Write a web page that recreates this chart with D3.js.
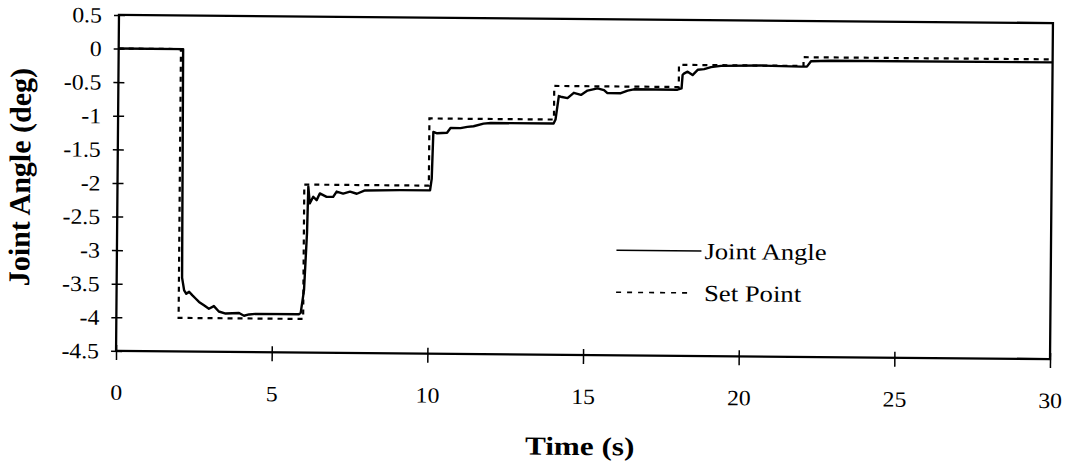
<!DOCTYPE html>
<html>
<head>
<meta charset="utf-8">
<script src="https://cdn.jsdelivr.net/npm/d3@7"></script>
<style>
  html, body { margin: 0; padding: 0; background: #fff; }
  svg { display: block; }
  text { font-family: "Liberation Serif", "Times New Roman", serif; fill: #000; }
</style>
</head>
<body>
<svg id="chart" width="1068" height="475"></svg>
<script>
// Joint angle response (deg) over time (s)
const jointTimes = [0, 2.07, 2.10, 2.17, 2.24, 2.33, 2.43, 2.54, 2.65, 2.81, 2.97, 3.13, 3.29, 3.51, 3.94, 4.10, 4.26, 4.47, 5.86, 5.92, 6.02, 6.10, 6.13, 6.18, 6.29, 6.40, 6.50, 6.72, 6.93, 7.04, 7.25, 7.47, 7.69, 7.95, 9.07, 10.04, 10.09, 10.13, 10.25, 10.57, 10.68, 11.0, 11.22, 11.42, 11.74, 11.97, 13.99, 14.05, 14.15, 14.21, 14.43, 14.63, 14.86, 15.07, 15.39, 15.60, 15.71, 16.14, 16.36, 16.56, 17.96, 18.09, 18.12, 18.16, 18.28, 18.44, 18.61, 18.81, 19.03, 19.35, 20.64, 21.92, 22.11, 22.24, 22.88, 30];
const jointValues = [0, 0, -3.40, -3.59, -3.64, -3.61, -3.66, -3.71, -3.76, -3.81, -3.86, -3.82, -3.90, -3.93, -3.92, -3.96, -3.94, -3.93, -3.93, -3.91, -3.57, -2.72, -2.03, -2.28, -2.18, -2.23, -2.13, -2.18, -2.18, -2.10, -2.13, -2.10, -2.13, -2.08, -2.07, -2.07, -1.90, -1.20, -1.22, -1.21, -1.14, -1.14, -1.12, -1.11, -1.07, -1.06, -1.06, -1.00, -0.65, -0.66, -0.68, -0.60, -0.63, -0.565, -0.53, -0.555, -0.60, -0.60, -0.56, -0.54, -0.54, -0.52, -0.32, -0.30, -0.27, -0.32, -0.24, -0.23, -0.20, -0.18, -0.17, -0.18, -0.18, -0.10, -0.09, -0.085];

// Set point schedule (held until the next change)
const setTimes = [0, 2, 6, 10, 14, 18, 22, 30];
const setValues = [0, -4, -2, -1, -0.5, -0.17, -0.04, -0.04];

// Axis ticks
const xTicks = [0, 5, 10, 15, 20, 25, 30];
const yTicks = [0.5, 0, -0.5, -1, -1.5, -2, -2.5, -3, -3.5, -4, -4.5];

const seriesNames = ["Joint Angle", "Set Point"];

const svg = d3.select("#chart");
const plotLeft = 117.5, plotRight = 1051.5, plotTop = 19, plotBottom = 355;

const x = d3.scaleLinear().domain([0, 30]).range([plotLeft, plotRight]);
const y = d3.scaleLinear().domain([-4.5, 0.5]).range([plotBottom, plotTop]);

// whole figure sits at a slight tilt
const g = svg.append("g").attr("transform", "rotate(0.5, 584.5, 187)");

// plot frame
g.append("rect")
  .attr("x", plotLeft).attr("y", plotTop)
  .attr("width", plotRight - plotLeft).attr("height", plotBottom - plotTop)
  .attr("fill", "none").attr("stroke", "#000").attr("stroke-width", 2.3);

// y axis ticks + labels
const yAxis = g.append("g").attr("transform", `translate(${plotLeft},0)`)
  .call(d3.axisLeft(y).tickValues(yTicks).tickSize(5).tickFormat(d => String(d)));
yAxis.select(".domain").remove();
yAxis.selectAll(".tick line").attr("x2", -5).attr("x1", 6).attr("stroke", "#000").attr("stroke-width", 1.5);
yAxis.selectAll(".tick text")
  .attr("x", null).attr("dy", null)
  .attr("font-size", 22)
  .attr("text-anchor", "end")
  .attr("dominant-baseline", "central")
  .attr("transform", "translate(-17,0) scale(1.08,1)");

// x axis ticks + labels
const xAxis = g.append("g").attr("transform", `translate(0,${plotBottom})`)
  .call(d3.axisBottom(x).tickValues(xTicks).tickSize(8).tickFormat(d => String(d)));
xAxis.select(".domain").remove();
xAxis.selectAll(".tick line").attr("y1", -6).attr("y2", 9).attr("stroke", "#000").attr("stroke-width", 1.5);
xAxis.selectAll(".tick text")
  .attr("y", null).attr("dy", null)
  .attr("font-size", 22)
  .attr("text-anchor", "middle")
  .attr("transform", "translate(0,49) scale(1.08,1)");

// set point (dashed step)
const setData = setTimes.map((t, i) => [t, setValues[i]]);
g.append("path")
  .datum(setData)
  .attr("fill", "none")
  .attr("stroke", "#000")
  .attr("stroke-width", 2.2)
  .attr("stroke-dasharray", "5,5")
  .attr("d", d3.line().x(d => x(d[0])).y(d => y(d[1])).curve(d3.curveStepAfter));

// joint angle (solid)
const jointData = jointTimes.map((t, i) => [t, jointValues[i]]);
g.append("path")
  .datum(jointData)
  .attr("fill", "none")
  .attr("stroke", "#000")
  .attr("stroke-width", 2.4)
  .attr("stroke-linejoin", "round")
  .attr("d", d3.line().x(d => x(d[0])).y(d => y(d[1])));

// legend
const legend = g.append("g");
legend.append("line").attr("x1", 617).attr("x2", 702).attr("y1", 250).attr("y2", 250)
  .attr("stroke", "#000").attr("stroke-width", 1.6);
legend.append("line").attr("x1", 617).attr("x2", 692).attr("y1", 292).attr("y2", 292)
  .attr("stroke", "#000").attr("stroke-width", 1.6).attr("stroke-dasharray", "5,6");
legend.selectAll("text.leg").data(seriesNames).join("text")
  .attr("class", "leg")
  .attr("font-size", 23)
  .attr("transform", (d, i) => `translate(705,${258 + i * 42}) scale(1.16,1)`)
  .text(d => d);

// axis titles
g.append("text")
  .attr("font-size", 26).attr("font-weight", "bold")
  .attr("text-anchor", "middle")
  .attr("transform", "translate(582,455) scale(1.2,1)")
  .text("Time (s)");

g.append("text")
  .attr("font-size", 30).attr("font-weight", "bold")
  .attr("text-anchor", "middle")
  .attr("transform", "translate(30,182) rotate(-90)")
  .text("Joint Angle (deg)");
</script>
</body>
</html>
